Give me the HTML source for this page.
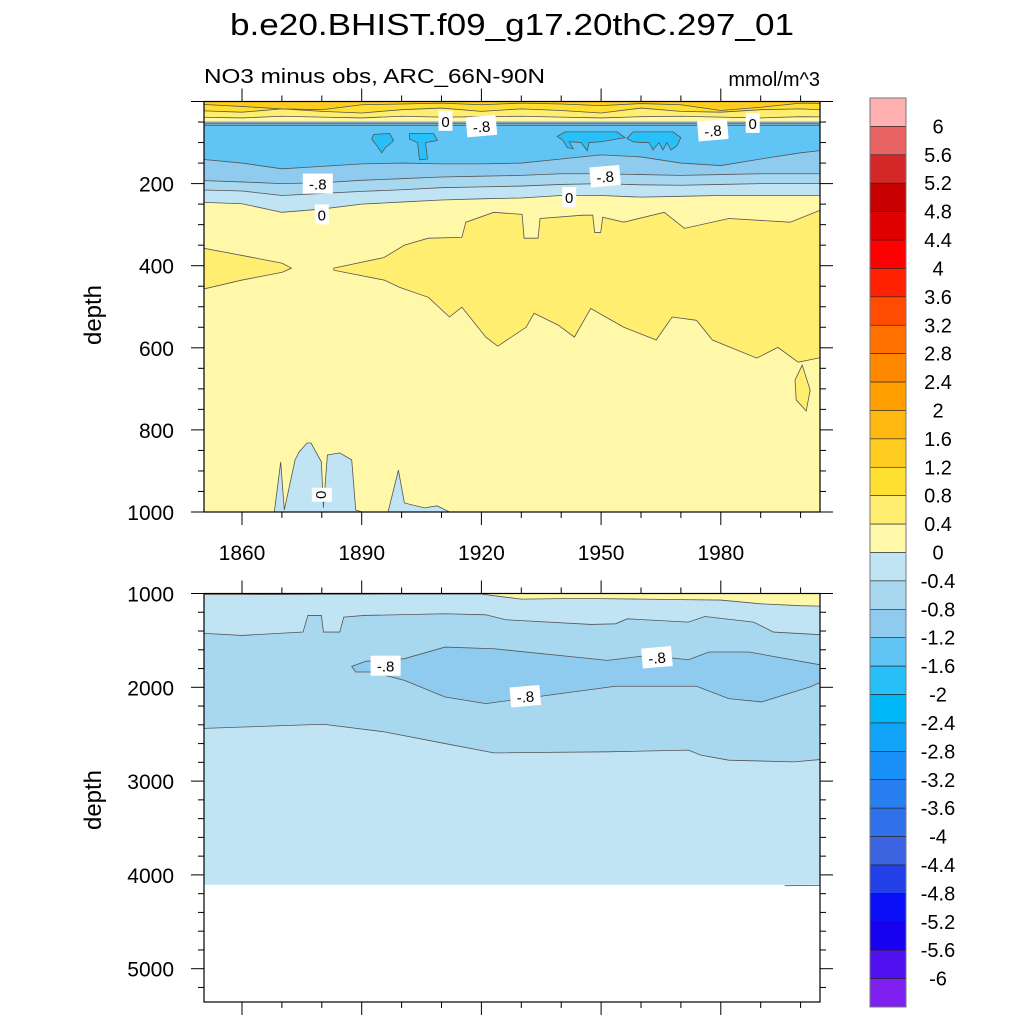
<!DOCTYPE html>
<html><head><meta charset="utf-8"><style>
html,body{margin:0;padding:0;background:#fff;}
svg{display:block;font-family:"Liberation Sans",Arial,sans-serif;}
</style></head><body>
<svg id="chart" width="1024" height="1024" viewBox="0 0 1024 1024" xmlns="http://www.w3.org/2000/svg">
<defs>
<clipPath id="clipTop"><rect x="204" y="101.5" width="616" height="410.5"/></clipPath>
<clipPath id="clipBot"><rect x="204" y="593.5" width="616" height="408.5"/></clipPath>
</defs>
<text x="512" y="35" font-size="31" text-anchor="middle" textLength="564" lengthAdjust="spacingAndGlyphs">b.e20.BHIST.f09_g17.20thC.297_01</text>
<text x="204" y="83" font-size="20" textLength="341" lengthAdjust="spacingAndGlyphs">NO3 minus obs, ARC_66N-90N</text>
<text x="820" y="86" font-size="20" text-anchor="end">mmol/m^3</text>
<g id="topPlot" clip-path="url(#clipTop)"></g>
<g id="botPlot" clip-path="url(#clipBot)"></g>
<g id="axes"></g>
<g id="cbar"></g>
</svg>
<script>
// ---- data ----
const yearsT = [1851,1860,1870,1880,1890,1900,1910,1920,1930,1940,1950,1960,1970,1980,1990,2000,2006];
const p12 = [6,12,18,20,8,6,4,8,4,6,10,5,8,22,14,4,5];
const p08 = [22,26,18,24,28,20,16,24,18,22,28,16,24,26,20,18,22];
const p04 = [38,40,36,38,40,36,38,37,36,38,40,37,36,38,40,37,38];
const c0top = [50,50,50,50,50,50,50,50,50,50,50,50,50,50,50,50,50];
const c04top = [54,54,54,54,54,54,54,54,54,54,54,54,54,54,54,54,54];
const c08top = [58,58,58,58,58,58,58,58,58,58,58,58,58,58,58,58,58];
const c12low = [139,150,164,158,152,150,152,152,150,140,130,135,150,156,140,125,115];
const c08low = [192,196,200,198,192,188,184,182,180,176,176,178,180,178,176,176,176];
const c04low = [215,218,229,224,219,215,210,208,206,202,200,203,204,202,200,200,200];
const c0low = [245,249,270,262,250,245,240,237,235,229,229,233,231,229,229,229,229];
const midMain = [[1883,406],[1895.6,380],[1900.7,350],[1906.7,333],[1915.1,331],[1916.1,294],[1923.1,270],[1930.2,275],[1930.7,333],[1934.2,333],[1934.7,285],[1945.4,277],[1947.9,277],[1948.4,319],[1949.9,319],[1950.4,282],[1955.7,294],[1965.8,270],[1970.9,309],[1982,285],[1997.4,294],[2008,253],
 [2008,630],[2005.5,623],[1999.4,635],[1994.3,599],[1989,625],[1977.9,581],[1973.9,533],[1967.8,525],[1963.8,581],[1955.7,550],[1951.7,528],[1947.4,504],[1943.3,574],[1939.3,545],[1933.2,516],[1931.2,550],[1924.1,596],[1921.1,574],[1915.1,501],[1912,525],[1906.7,477],[1899.6,453],[1895.6,435],[1883,411]];
const midLeft = [[1849,355],[1860,375],[1870.1,394],[1872.4,406],[1870.1,416],[1860,435],[1849,460]];
const midLens = [[2000.4,642],[2002.4,703],[2001.4,754],[1998.9,727],[1998.6,679]];
const deepBlue1 = [[1868.1,1000],[1869.7,878],[1870.6,995],[1873.3,873],[1874.3,854],[1876.3,832],[1877.3,832],[1879.9,878],[1880.4,990],[1881.4,861],[1884.5,856],[1887.5,873],[1888.5,995],[1890.1,1000]];
const deepBlue2 = [[1896.6,1000],[1899.2,898],[1900.7,978],[1905.7,990],[1908.9,985],[1912,1000]];
const cyanA = [[1893,80],[1897,78],[1898,95],[1896,112],[1895,125],[1894,110],[1892.5,92]];
const cyanB = [[1902,78],[1908,78],[1909,95],[1906,100],[1906.5,140],[1904.5,142],[1904,100],[1902,92]];
const cyanC = [[1939,85],[1941,74],[1954,74],[1956,88],[1950,98],[1947,100],[1946.5,120],[1945,100],[1942,98],[1943,115],[1941.5,112],[1940.5,95]];
const cyanD = [[1956.5,90],[1958,74],[1968,74],[1970,88],[1969,108],[1967.5,118],[1966.5,100],[1965.5,118],[1964.5,100],[1963,118],[1962,100],[1960,100],[1958,98]];
const bc0 = [1012,1012,1010,1008,1008,1006,1006,1006,1060,1055,1055,1060,1065,1070,1110,1130,1138];
const bUpper = [[1849,1422],[1860,1447],[1875.3,1411],[1876.5,1234],[1879.9,1234],[1880.4,1411],[1884.5,1411],[1885.5,1252],[1890.6,1234],[1910.9,1216],[1921.1,1227],[1926.1,1280],[1947.5,1330],[1953.6,1323],[1956.6,1270],[1971.9,1305],[1976,1245],[1988.2,1305],[1993.2,1411],[2008,1447]];
const bLower = [[1849,2440],[1880.4,2394],[1895.7,2475],[1910.9,2600],[1923.1,2699],[1951.6,2688],[1971.9,2670],[1975,2723],[1982,2777],[1998.3,2795],[2008,2759]];
const bInner = [[1887.5,1777],[1891,1723],[1900.7,1695],[1910.9,1571],[1923.1,1589],[1951.6,1713],[1961.7,1660],[1971.9,1706],[1977,1624],[1987.1,1624],[2008,1784],
 [2008,1890],[2002.4,1996],[1990.2,2156],[1982,2121],[1973.9,1989],[1953.6,1989],[1921.1,2174],[1910.9,2103],[1900.7,1926],[1892.6,1837],[1888.5,1837]];
const bFloor = 4105;
const xTickYears = [1860,1890,1920,1950,1980];
const yTicksTop = [200,400,600,800,1000];
const yTicksBot = [1000,2000,3000,4000,5000];
const cbLabels = ["6","5.6","5.2","4.8","4.4","4","3.6","3.2","2.8","2.4","2","1.6","1.2","0.8","0.4","0","-0.4","-0.8","-1.2","-1.6","-2","-2.4","-2.8","-3.2","-3.6","-4","-4.4","-4.8","-5.2","-5.6","-6"];
const cbColors = ["#ffb0b0","#e86464","#d42828","#c80000","#e00000","#ff0000","#ff2000","#ff4c00","#ff7000","#ff8800","#ffa000","#ffb810","#ffcc20","#ffe030","#ffee70","#fff8a8","#c0e4f4","#a8d8f0","#8ecbee","#60c4f4","#28c0f8","#00b8f8","#10a4f8","#1890f8","#2880f0","#3070e8","#3c64e0","#2440e8","#0c10f8","#1800f0","#5010f0","#8020f0"];
// ---- axis functions ----
const NS="http://www.w3.org/2000/svg";
function xs(yr){return 242+(yr-1860)*3.99;}
function yT(d){return 101.5+d*0.4105;}
function yB(d){return 593.5+(d-1000)*0.0938;}
function el(tag,attrs,parent){const e=document.createElementNS(NS,tag);for(const k in attrs)e.setAttribute(k,attrs[k]);parent.appendChild(e);return e;}
const topG=document.getElementById('topPlot'), botG=document.getElementById('botPlot'), axesG=document.getElementById('axes'), cbarG=document.getElementById('cbar');
const LINE="#555";
function fromSurface(arr,fill,name,parent,stroke){
  let d="M"+xs(yearsT[0]-3)+","+yT(0);
  arr.forEach((v,i)=>{d+=" L"+xs(yearsT[i]+(i==0?-3:(i==arr.length-1?3:0)))+","+yT(v);});
  d+=" L"+xs(yearsT[yearsT.length-1]+3)+","+yT(0)+"Z";
  const p=el('path',{d:d,fill:fill,stroke:"none"},parent);
  
  
  if(stroke){let l="";arr.forEach((v,i)=>{l+=(i?" L":"M")+xs(yearsT[i]+(i==0?-3:(i==arr.length-1?3:0)))+","+yT(v);});
    const q=el('path',{d:l,fill:"none",stroke:LINE,"stroke-width":0.8},parent);
    
    }
}
function polyPts(pts,fy,fill,name,parent){
  let d="";pts.forEach((p,i)=>{d+=(i?" L":"M")+xs(p[0])+","+fy(p[1]);});
  d+="Z";
  const p=el('path',{d:d,fill:fill,stroke:LINE,"stroke-width":0.8},parent);
  
  
}
const bg=el('rect',{x:204,y:101.5,width:616,height:410.5,fill:"#fff8a8"},topG);


polyPts(midLeft,yT,"#ffee70","mid-region-left",topG);
polyPts(midMain,yT,"#ffee70","mid-region-main",topG);
polyPts(midLens,yT,"#ffee70","mid-region-lens",topG);
polyPts(deepBlue1,yT,"#c0e4f4","deep-negative-patch-1",topG);
polyPts(deepBlue2,yT,"#c0e4f4","deep-negative-patch-2",topG);
fromSurface(c0low,"#c0e4f4","band-0-low",topG,true);
fromSurface(c04low,"#a8d8f0","band-04-low",topG,true);
fromSurface(c08low,"#8ecbee","band-08-low",topG,true);
fromSurface(c12low,"#60c4f4","band-12-low",topG,true);
polyPts(cyanA,yT,"#28c0f8","cyan-patch-a",topG);
polyPts(cyanB,yT,"#28c0f8","cyan-patch-b",topG);
polyPts(cyanC,yT,"#28c0f8","cyan-patch-c",topG);
polyPts(cyanD,yT,"#28c0f8","cyan-patch-d",topG);
fromSurface(c08top,"#8ecbee","band-08-top",topG,true);
fromSurface(c04top,"#a8d8f0","band-04-top",topG,true);
fromSurface(c0top,"#c0e4f4","band-0-top",topG,true);
fromSurface(c0top.map(v=>v-1),"#fff8a8","band-pos-04",topG,false);
fromSurface(p04,"#ffee70","band-pos-08",topG,true);
fromSurface(p08,"#ffe030","band-pos-12",topG,true);
fromSurface(p12,"#ffcc20","band-pos-16",topG,true);
const bbg=el('rect',{x:204,y:593.5,width:616,height:yB(bFloor)-593.5,fill:"#c0e4f4"},botG);


(function(){let d="M"+xs(1845)+","+yB(1000);bc0.forEach((v,i)=>{d+=" L"+xs(yearsT[i]+(i==0?-3:(i==bc0.length-1?3:0)))+","+yB(v);});d+=" L"+xs(2010)+","+yB(1000)+"Z";
 const p=el('path',{d:d,fill:"#fff8a8",stroke:LINE,"stroke-width":0.8},botG);
 
 })();
polyPts(bUpper.concat(bLower.slice().reverse()),yB,"#a8d8f0","bottom-band-04",botG);
polyPts(bInner,yB,"#8ecbee","bottom-band-08",botG);
const fl=el('line',{x1:xs(1996),x2:xs(2008),y1:yB(bFloor+10),y2:yB(bFloor+5),stroke:LINE,"stroke-width":0.8},botG);


const cLabels=[["0",1911,47,0,topG,yT],["-.8",1920,60,-5,topG,yT],["-.8",1978,70,-5,topG,yT],["0",1988,52,0,topG,yT],["-.8",1879,200,0,topG,yT],["-.8",1951,182,-5,topG,yT],["0",1942,233,0,topG,yT],["0",1880,275,0,topG,yT],["0",1880,958,90,topG,yT],
 ["-.8",1896,1770,0,botG,yB],["-.8",1964,1680,-5,botG,yB],["-.8",1931,2095,-5,botG,yB]];
cLabels.forEach(c=>{
  const g=el('g',{transform:`translate(${xs(c[1])},${c[5](c[2])}) rotate(${c[3]})`},c[4]);
  
  
  const w=c[0].length*8+6;
  el('rect',{x:-w/2,y:-10,width:w,height:20,fill:"#fff"},g);
  el('text',{x:0,y:6,"font-size":15,"text-anchor":"middle",fill:"#000"},g).textContent=c[0];
});
[[101.5,512],[593.5,1002]].forEach((r,i)=>{
  const f=el('rect',{x:204,y:r[0],width:616,height:r[1]-r[0],fill:"none",stroke:"#000","stroke-width":1.2},axesG);
  
  
});
function tick(x1,y1,x2,y2){el('line',{x1:x1,y1:y1,x2:x2,y2:y2,stroke:"#000","stroke-width":1},axesG);}
for(let yr=1860;yr<=2000;yr+=10){
  const x=xs(yr), L=(yr-1860)%30===0?13:6;
  [[101.5,-1],[512,1],[593.5,-1],[1002,1]].forEach(e=>tick(x,e[0],x,e[0]+e[1]*L));
}
xTickYears.forEach(yr=>{
  const t=el('text',{x:xs(yr),y:560,"font-size":21,"text-anchor":"middle"},axesG);
  t.textContent=yr;
  
  
});
for(let d=0;d<=1000;d+=50){const y=yT(d),L=d%200===0?13:6;tick(204,y,204-L,y);tick(820,y,820+L,y);}
for(let d=1000;d<=5200;d+=200){const y=yB(d),L=d%1000===0?13:6;tick(204,y,204-L,y);tick(820,y,820+L,y);}
yTicksTop.forEach(d=>{const t=el('text',{x:174,y:yT(d)+8,"font-size":21,"text-anchor":"end"},axesG);t.textContent=d;
  
  });
yTicksBot.forEach(d=>{const t=el('text',{x:174,y:yB(d)+8,"font-size":21,"text-anchor":"end"},axesG);t.textContent=d;
  
  });
[[315,'top-y-axis-title'],[800,'bottom-y-axis-title']].forEach(a=>{
  const t=el('text',{x:0,y:0,"font-size":24,"text-anchor":"middle",transform:`translate(101,${a[0]}) rotate(-90)`},axesG);
  t.textContent="depth";
  
  
});
const cbTop=98, cbH=(1007-98)/cbColors.length;
cbColors.forEach((c,i)=>{
  const r=el('rect',{x:870,y:cbTop+i*cbH,width:36,height:cbH,fill:c,stroke:"#222","stroke-width":0.6},cbarG);
  
  
});
const cbFrame=el('rect',{x:870,y:cbTop,width:36,height:909,fill:"none",stroke:"#777","stroke-width":1},cbarG);


cbLabels.forEach((s,i)=>{
  const t=el('text',{x:938,y:cbTop+(i+1)*cbH+7,"font-size":20,"text-anchor":"middle"},cbarG);
  t.textContent=s;
  
  
});
</script>
</body></html>
